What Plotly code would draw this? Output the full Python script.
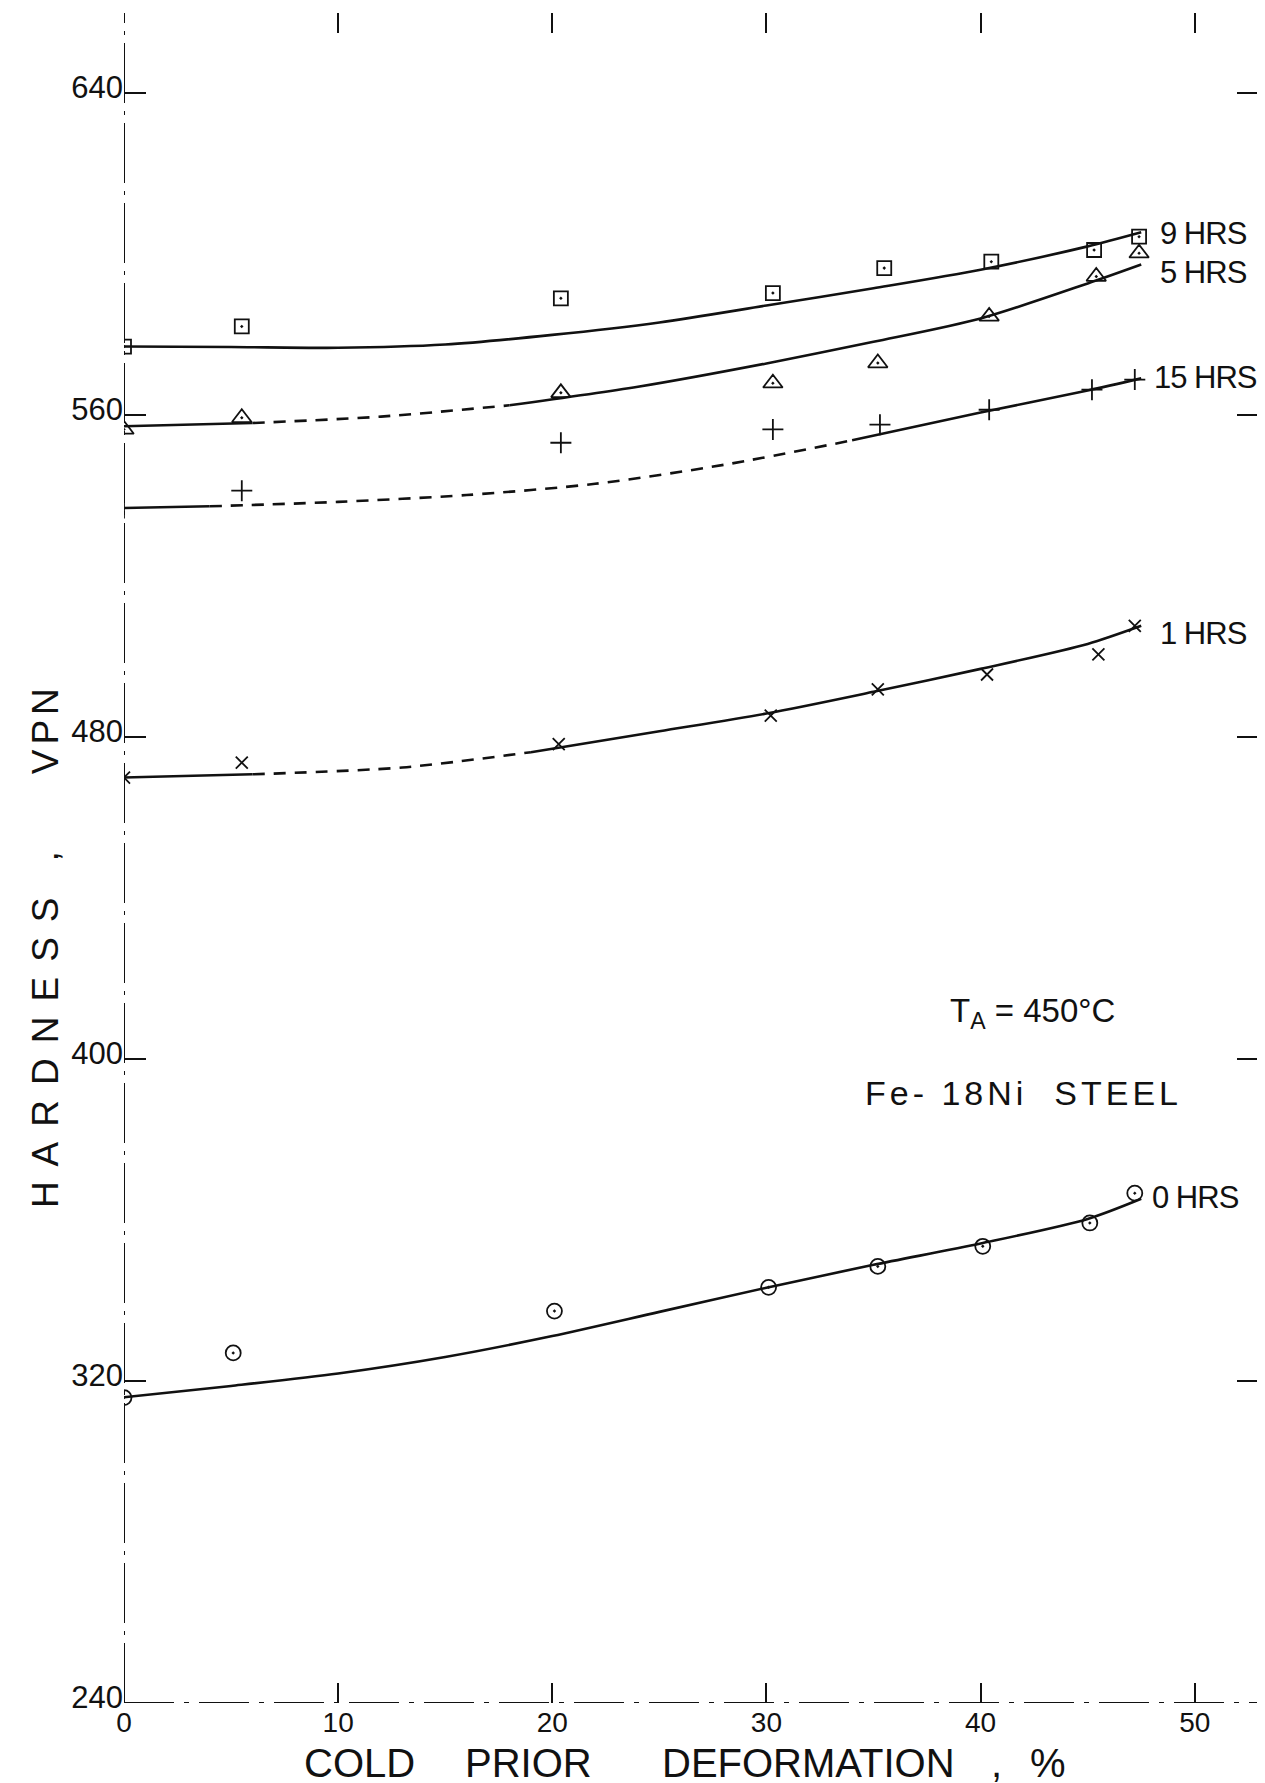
import plotly.graph_objects as go

# ---------------- data ----------------
TICK_X = [0, 10, 20, 30, 40, 50]
TICK_Y = [240, 320, 400, 480, 560, 640]
TICK_Y_TEXT = ["240", "320", "400", "480", "560", "640"]

# 9 HRS (squares)
x_9h = [0, 5.5, 20.4, 30.3, 35.5, 40.5, 45.3, 47.4]
y_9h = [577.1, 582.1, 589.1, 590.4, 596.6, 598.2, 601.1, 604.4]
cx_9h = [0, 5, 10, 15, 20, 25, 30, 35, 40, 45, 47.5]
cy_9h = [577.1, 577.0, 576.8, 577.6, 580.0, 583.1, 587.3, 591.6, 596.2, 602.0, 605.5]

# 5 HRS (triangles)
x_5h = [0, 5.5, 20.4, 30.3, 35.2, 40.4, 45.4, 47.4]
y_5h = [556.5, 559.4, 565.6, 568.0, 573.0, 584.6, 594.5, 600.3]
cx_5h = [0, 6, 12, 18, 24, 30, 35, 40, 45, 47.5]
cy_5h = [557.3, 558.1, 559.7, 562.5, 567.1, 572.9, 578.3, 584.1, 592.8, 597.5]

# 15 HRS (plus)
x_15h = [0, 5.5, 20.4, 30.3, 35.3, 40.4, 45.2, 47.2]
y_15h = [537.0, 541.3, 553.2, 556.5, 557.7, 561.4, 566.4, 568.9]
cx_15h = [0, 4, 10, 16, 22, 28, 34, 40, 45, 47.5]
cy_15h = [537.0, 537.4, 538.5, 540.2, 543.0, 547.7, 553.8, 560.7, 566.2, 569.2]

# 1 HRS (x)
x_1h = [0, 5.5, 20.3, 30.2, 35.2, 40.3, 45.5, 47.2]
y_1h = [470.0, 473.7, 478.3, 485.4, 491.9, 495.6, 500.6, 507.7]
cx_1h = [0, 6, 13, 19, 25, 30, 35, 40, 45, 47.5]
cy_1h = [470.0, 470.8, 472.5, 476.3, 481.5, 485.9, 491.3, 497.0, 503.2, 507.7]

# 0 HRS (circles)
x_0h = [0, 5.1, 20.1, 30.1, 35.2, 40.1, 45.1, 47.2]
y_0h = [315.9, 327.0, 337.4, 343.3, 348.5, 353.5, 359.3, 366.7]
cx_0h = [0, 5, 10, 15, 20, 25, 30, 35, 40, 45, 47.5]
cy_0h = [316.0, 318.8, 321.9, 326.0, 331.2, 337.2, 343.2, 348.9, 354.2, 360.3, 365.3]

SERIES_NAMES = ["9 HRS", "5 HRS", "15 HRS", "1 HRS", "0 HRS"]
X_TITLE_WORDS = ["COLD", "PRIOR", "DEFORMATION", ",", "%"]
Y_TITLE_WORDS = ["HARDNESS", ",", "VPN"]
NOTE_1 = "T<sub>A</sub> = 450°C"
NOTE_2 = "Fe- 18Ni  STEEL"

# ---------------- styles ----------------
FONT = "Liberation Sans, Arial, sans-serif"
INK = "#111111"
series_style = [
    dict(symbol="square-open-dot", size=14, dashed=None, label=(48.3, 605.2)),
    dict(symbol="triangle-up-open-dot", size=17, dashed=(1, 3), label=(48.3, 595.5)),
    dict(symbol="cross-thin", size=15, dashed=(1, 6), label=(48.0, 569.4)),
    dict(symbol="x-thin", size=12, dashed=(1, 3), label=(48.3, 505.8)),
    dict(symbol="circle-open-dot", size=15, dashed=None, label=(47.9, 365.6)),
]
series_data = [
    (x_9h, y_9h, cx_9h, cy_9h),
    (x_5h, y_5h, cx_5h, cy_5h),
    (x_15h, y_15h, cx_15h, cy_15h),
    (x_1h, y_1h, cx_1h, cy_1h),
    (x_0h, y_0h, cx_0h, cy_0h),
]

fig = go.Figure()

for name, (mx, my, cx, cy), st in zip(SERIES_NAMES, series_data, series_style):
    n = len(cx)
    if st["dashed"] is None:
        segs = [(0, n - 1, "solid")]
    else:
        a, b = st["dashed"]
        segs = [(0, a, "solid"), (a, b, "12px,9px"), (b, n - 1, "solid")]
    for i0, i1, dash in segs:
        fig.add_trace(go.Scatter(
            x=cx[i0:i1 + 1], y=cy[i0:i1 + 1], mode="lines",
            line=dict(color=INK, width=2.6, dash=dash, shape="spline", smoothing=0.8),
            hoverinfo="skip", showlegend=False))
    fig.add_trace(go.Scatter(
        x=mx, y=my, mode="markers", name=name,
        marker=dict(symbol=st["symbol"], size=st["size"], color=INK,
                    line=dict(color=INK, width=1.8)),
        showlegend=False))

XMAX = 53.0
YMIN, YMAX = 240, 660
PLOT_W, PLOT_H = 1135, 1690

annotations = []
for name, st in zip(SERIES_NAMES, series_style):
    lx, ly = st["label"]
    annotations.append(dict(x=lx, y=ly, xref="x", yref="y",
                            text=f'<span style="letter-spacing:-1px">{name}</span>',
                            showarrow=False, xanchor="left", yanchor="middle",
                            font=dict(family=FONT, size=31, color=INK)))

annotations.append(dict(x=42.4, y=411.6, xref="x", yref="y", text=NOTE_1, showarrow=False,
                        font=dict(family=FONT, size=33, color=INK)))
annotations.append(dict(x=42.0, y=391.5, xref="x", yref="y",
                        text=f'<span style="letter-spacing:4px">{NOTE_2}</span>',
                        showarrow=False, font=dict(family=FONT, size=34, color=INK)))

# x-axis title, word by word (paper y below the plot)
x_title_pos = [8.33, 15.85, 25.04, 40.4, 42.2]
for word, wx in zip(X_TITLE_WORDS, x_title_pos):
    annotations.append(dict(x=wx / XMAX, y=-60 / PLOT_H, xref="paper", yref="paper", text=word,
                            showarrow=False, xanchor="left", yanchor="middle",
                            font=dict(family=FONT, size=40, color=INK)))

# y-axis title pieces (rotated), paper x left of the plot
y_title_pos = [(403.5, 15), (450.4, 0), (482.0, 5)]
for word, (wy, sp) in zip(Y_TITLE_WORDS, y_title_pos):
    annotations.append(dict(x=-79 / PLOT_W, y=(wy - YMIN) / (YMAX - YMIN), xref="paper", yref="paper",
                            text=f'<span style="letter-spacing:{sp}px">{word}</span>',
                            showarrow=False, textangle=-90, xanchor="center", yanchor="middle",
                            font=dict(family=FONT, size=37, color=INK)))

shapes = [
    dict(type="line", xref="x", yref="y", x0=0, x1=0, y0=YMIN, y1=YMAX,
         line=dict(color=INK, width=2, dash="60px,8px,4px,8px")),
    dict(type="line", xref="x", yref="y", x0=0, x1=XMAX, y0=YMIN, y1=YMIN,
         line=dict(color=INK, width=2, dash="50px,10px,5px,10px")),
    dict(type="line", xref="x", yref="y", x0=XMAX, x1=XMAX, y0=YMIN, y1=YMAX,
         line=dict(color=INK, width=2, dash="45px,8px,4px,8px")),
]

fig.update_layout(
    width=1265, height=1783,
    margin=dict(l=116, r=14, t=5, b=88),
    paper_bgcolor="white", plot_bgcolor="white",
    showlegend=False,
    annotations=annotations,
    shapes=shapes,
    xaxis=dict(range=[0, XMAX], tickvals=TICK_X, ticktext=[str(v) for v in TICK_X],
               ticks="inside", ticklen=20, tickwidth=2, tickcolor=INK, mirror="ticks",
               showline=False, showgrid=False, zeroline=False,
               tickfont=dict(family=FONT, size=28, color=INK)),
    yaxis=dict(range=[YMIN, YMAX], tickvals=TICK_Y, ticktext=TICK_Y_TEXT,
               ticks="inside", ticklen=22, tickwidth=2, tickcolor=INK, mirror="ticks",
               showline=False, showgrid=False, zeroline=False, ticklabelshift=-6,
               tickfont=dict(family=FONT, size=31, color=INK)),
)

fig.write_html("out.html")
